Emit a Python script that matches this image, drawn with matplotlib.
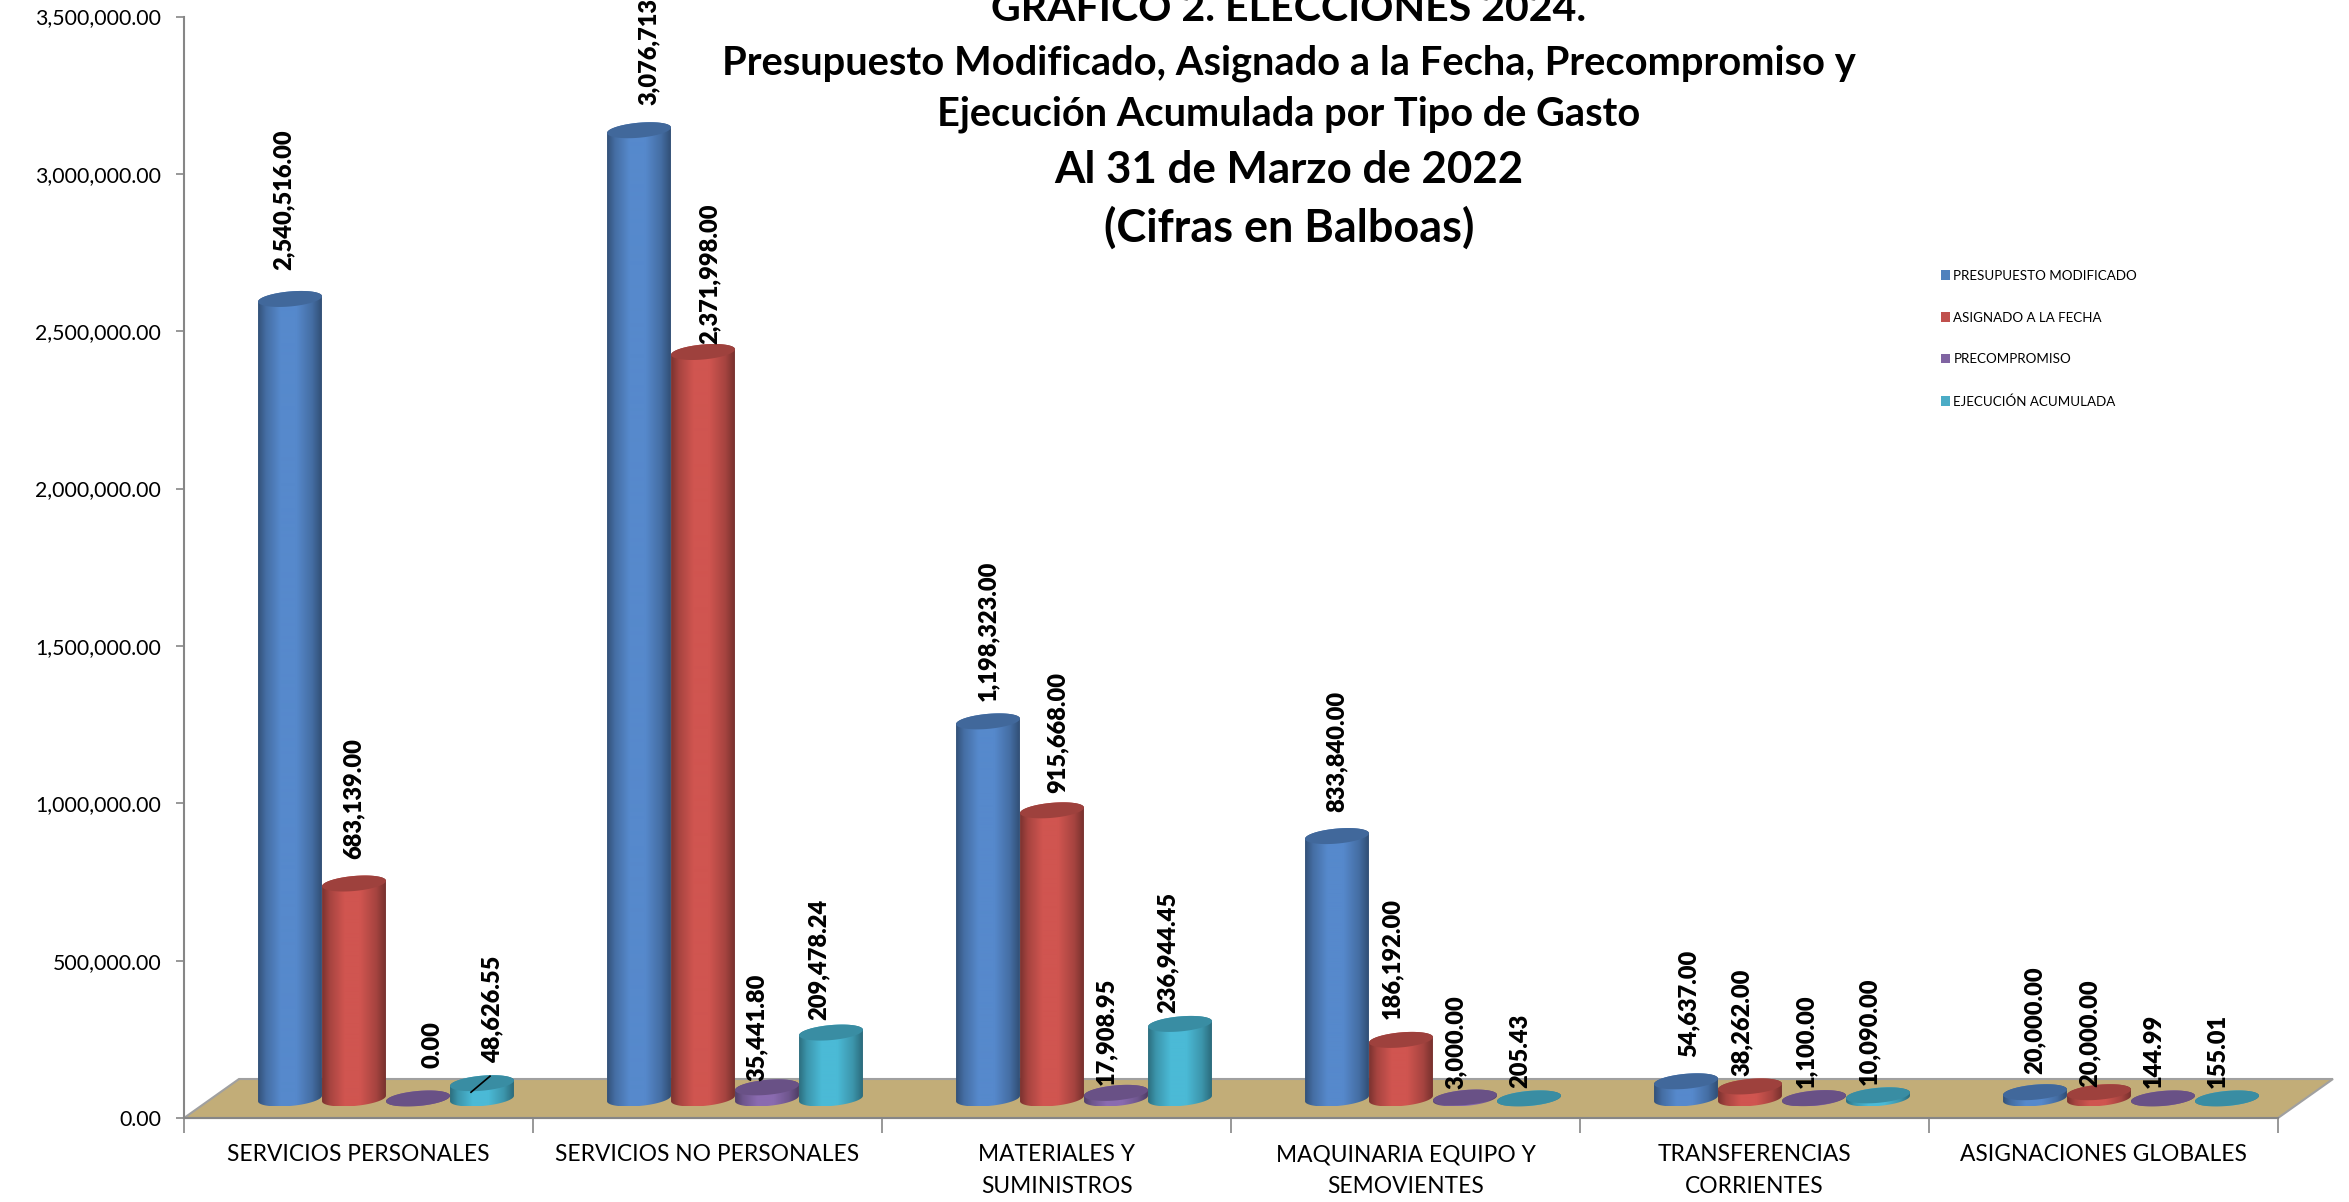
import numpy as np
import matplotlib

matplotlib.use("Agg")
import matplotlib.pyplot as plt
from matplotlib.patches import Patch, Polygon
from matplotlib.ticker import StrMethodFormatter

CATEGORIES = [
    "SERVICIOS PERSONALES",
    "SERVICIOS NO PERSONALES",
    "MATERIALES Y\nSUMINISTROS",
    "MAQUINARIA EQUIPO Y\nSEMOVIENTES",
    "TRANSFERENCIAS\nCORRIENTES",
    "ASIGNACIONES GLOBALES",
]
SERIES = [
    "PRESUPUESTO MODIFICADO",
    "ASIGNADO A LA FECHA",
    "PRECOMPROMISO",
    "EJECUCIÓN ACUMULADA",
]
PRESUPUESTO = [2540516.00, 3076713.00, 1198323.00, 833840.00, 54637.00, 20000.00]
ASIGNADO = [683139.00, 2371998.00, 915668.00, 186192.00, 38262.00, 20000.00]
PRECOMPROMISO = [0.00, 35441.80, 17908.95, 3000.00, 1100.00, 144.99]
EJECUCION = [48626.55, 209478.24, 236944.45, 205.43, 10090.00, 155.01]
VALUES = [PRESUPUESTO, ASIGNADO, PRECOMPROMISO, EJECUCION]

COLORS = ["#5689CC", "#D05550", "#8A6BB0", "#4BBAD6"]
LEGEND_COLORS = ["#4F81BD", "#C0504D", "#8064A2", "#4BACC6"]

# hand placed label nudges, pixels, one row per series
LABEL_DX = [
    [-6, 10, 0, 0, 3, 0],
    [0, 7, 6, -9, -8, -9],
    [15, -10, -10, -9, -8, -9],
    [10, -12, -12, -9, -9, -9],
]
LABEL_GAP = [
    [29, 25, 20, 24, 24, 18],
    [25, 8, 17, 21, 10, 5],
    [31, 6, 8, 9, 10, 10],
    [20, 13, 11, 10, 10, 10],
]

TITLES = [
    ("GRÁFICO 2. ELECCIONES 2024.", 9, 29.6),
    ("Presupuesto Modificado, Asignado a la Fecha, Precompromiso y", 63, 28.7),
    ("Ejecución Acumulada por Tipo de Gasto", 114, 28.6),
    ("Al 31 de Marzo de 2022", 170, 31.6),
    ("(Cifras en Balboas)", 228, 32.4),
]

W, H = 2349, 1202
LEFT, RIGHT, ZERO, TOP = 184, 2278, 1118, 16.5
YMAX = 3500000
PX_X = len(CATEGORIES) / (RIGHT - LEFT)
PX_Y = YMAX / (ZERO - TOP)
DEPTH_X, DEPTH_Y = 55 * PX_X, 39 * PX_Y
STEP = 64 * PX_X
RADIUS = 30 * PX_X
ELL_X, ELL_Y = 11 * PX_X, 8 * PX_Y

plt.rcParams["font.family"] = ["Lato", "DejaVu Sans"]
GREY = "#868686"


def outline(cx, y0, y1):
    # lower half of the base ellipse joined to the upper half of the top one
    t0 = np.arctan2(ELL_X, RADIUS)
    t = np.linspace(t0, t0 + np.pi, 60)
    top = np.column_stack(
        [cx + RADIUS * np.cos(t) + ELL_X * np.sin(t), y1 + ELL_Y * np.sin(t)]
    )
    t = np.linspace(t0 + np.pi, t0 + 2 * np.pi, 60)
    base = np.column_stack(
        [cx + RADIUS * np.cos(t) + ELL_X * np.sin(t), y0 + ELL_Y * np.sin(t)]
    )
    return np.vstack([top, base])


def cap(cx, y1):
    t = np.linspace(0, 2 * np.pi, 120)
    return np.column_stack(
        [cx + RADIUS * np.cos(t) + ELL_X * np.sin(t), y1 + ELL_Y * np.sin(t)]
    )


def draw_cylinder(ax, cx, value, color):
    rgb = np.array(matplotlib.colors.to_rgb(color))
    y0 = DEPTH_Y / 2
    y1 = y0 + value
    half = np.hypot(RADIUS, ELL_X)
    pos = np.linspace(0, 1, 64)
    shade = np.interp(pos, [0, 0.12, 0.35, 0.6, 0.85, 1], [0.6, 0.8, 1, 1, 0.8, 0.58])
    img = np.clip(rgb[None, None, :] * shade[None, :, None], 0, 1)
    body = Polygon(outline(cx, y0, y1), closed=True, transform=ax.transData)
    im = ax.imshow(
        img,
        extent=(cx - half, cx + half, y0 - ELL_Y, y1 + ELL_Y),
        aspect="auto",
        interpolation="bilinear",
        zorder=3,
    )
    im.set_clip_path(body)
    ax.add_patch(
        Polygon(cap(cx, y1), closed=True, fc=rgb * 0.76, ec="none", zorder=3)
    )


fig = plt.figure(figsize=(W / 100, H / 100), dpi=100)
ax = fig.add_axes(
    [LEFT / W, 1 - ZERO / H, (RIGHT - LEFT) / W, (ZERO - TOP) / H]
)

n = len(CATEGORIES)
floor = Polygon(
    [(0, 0), (n, 0), (n + DEPTH_X, DEPTH_Y), (DEPTH_X, DEPTH_Y)],
    closed=True,
    fc="#C2AD78",
    ec="#A0A0A0",
    lw=1.5,
    clip_on=False,
    zorder=1,
)
ax.add_patch(floor)

for c in range(n):
    center = c + 0.5 + DEPTH_X / 2
    for s, series in enumerate(VALUES):
        cx = center + (s - 1.5) * STEP
        value = series[c]
        draw_cylinder(ax, cx, value, COLORS[s])
        top_y = DEPTH_Y / 2 + value
        ax.text(
            cx + LABEL_DX[s][c] * PX_X,
            top_y + LABEL_GAP[s][c] * PX_Y,
            f"{value:,.2f}",
            rotation=90,
            ha="center",
            va="bottom",
            fontsize=17,
            fontweight=800,
            color="black",
            zorder=5,
        )

# leader line of the small EJECUCIÓN label
lead_x = 0.5 + DEPTH_X / 2 + 1.5 * STEP
lead_y = DEPTH_Y / 2 + EJECUCION[0]
ax.plot(
    [lead_x - 11 * PX_X, lead_x + 8 * PX_X],
    [lead_y - 9 * PX_Y, lead_y + 7 * PX_Y],
    color="black",
    lw=1.2,
    zorder=4,
    clip_on=False,
)

ax.set_xlim(0, n)
ax.set_ylim(0, YMAX)
for side in ("top", "right"):
    ax.spines[side].set_visible(False)
for side in ("left", "bottom"):
    ax.spines[side].set_color(GREY)
    ax.spines[side].set_linewidth(1.5)
    ax.spines[side].set_zorder(2)
ax.set_yticks(np.arange(0, YMAX + 1, 500000))
ax.yaxis.set_major_formatter(StrMethodFormatter("{x:,.2f}"))
ax.tick_params(axis="y", length=6, width=1.2, color=GREY, labelsize=15.3, pad=10.5)
ax.set_xticks(np.arange(n + 1))
ax.set_xticklabels([])
ax.tick_params(axis="x", which="major", length=11, width=1.2, color=GREY)
ax.set_xticks(np.arange(n) + 0.5, minor=True)
ax.set_xticklabels(CATEGORIES, minor=True, fontsize=16.4, linespacing=1.62)
ax.tick_params(axis="x", which="minor", length=0, pad=19)

for text, y, size in TITLES:
    fig.text(
        1289 / W, 1 - y / H, text, ha="center", va="center",
        fontsize=size, fontweight="bold", color="black",
    )

handles = [Patch(fc=col, ec="none") for col in LEGEND_COLORS]
fig.legend(
    handles,
    SERIES,
    loc="upper left",
    bbox_to_anchor=(1938 / W, 1 - 267 / H),
    frameon=False,
    fontsize=9.6,
    handlelength=0.7,
    handleheight=0.7,
    handletextpad=0.25,
    labelspacing=2.24,
    borderpad=0.2,
    borderaxespad=0,
)

fig.savefig("out.png", dpi=100)
